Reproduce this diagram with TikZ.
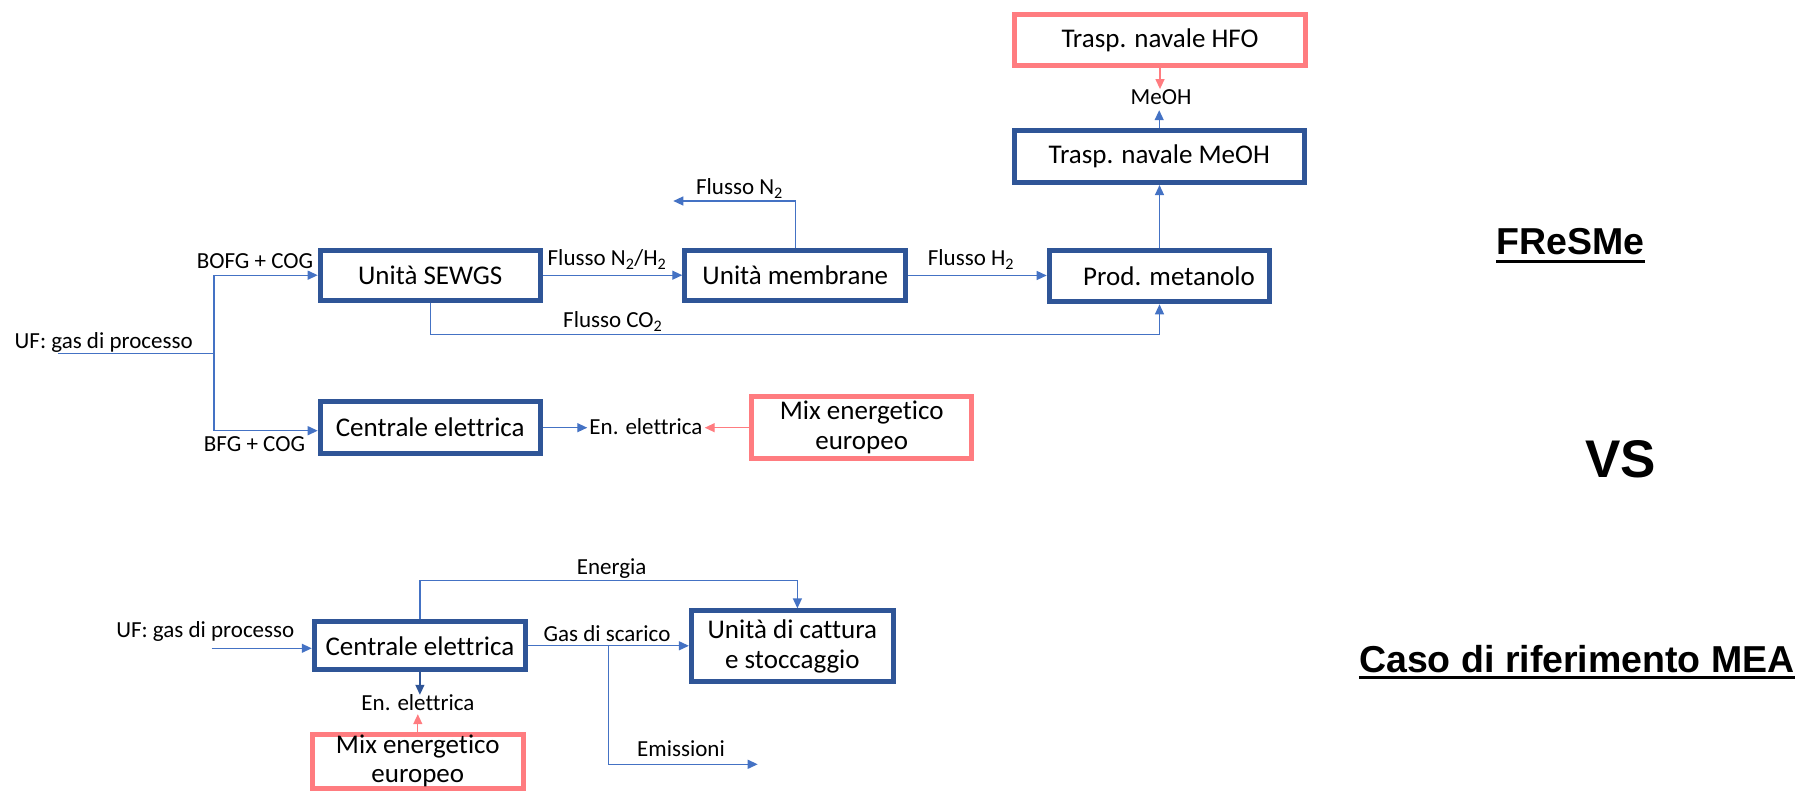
\documentclass[tikz,border=0pt]{standalone}
\usepackage{fontspec}
\setmainfont{Carlito}[Ligatures={NoCommon}]
\newfontfamily\titlefont{Liberation Sans}
\usetikzlibrary{arrows.meta}
\definecolor{dblue}{HTML}{2F5597}
\definecolor{lblue}{HTML}{4472C4}
\definecolor{salm}{HTML}{FF7C80}
\begin{document}
\begin{tikzpicture}[x=1pt,y=-1pt,
  bluebox/.style={draw=dblue,line width=5pt,outer sep=2.5pt,inner sep=0pt,font=\fontsize{27}{30}\selectfont,align=center},
  pinkbox/.style={draw=salm,line width=5pt,outer sep=2.5pt,inner sep=0pt,font=\fontsize{27}{30}\selectfont,align=center},
  lbl/.style={inner sep=2pt,font=\fontsize{23}{27}\selectfont},
  conn/.style={color=lblue,line width=1.3pt},
  arr/.style={color=lblue,line width=1.3pt,-{Triangle[length=10pt,width=9pt]}},
  ttl/.style={anchor=base,inner sep=0pt}]
\useasboundingbox (0,0) rectangle (1797,791);

% FReSMe boxes
\node[bluebox,minimum width=220pt,minimum height=50pt] (sewgs) at (430.2,275.2) {Unità SEWGS};
\node[bluebox,minimum width=221pt,minimum height=50.6pt] (membr) at (795.3,275.5) {Unità membrane};
\node[bluebox,minimum width=220.6pt,minimum height=51.6pt] (prod) at (1159.5,276) {\hspace*{19pt}Prod. metanolo};
\node[bluebox,minimum width=290pt,minimum height=51.7pt] (meohbox) at (1159.2,156.7) {Trasp. navale MeOH};
\node[pinkbox,minimum width=290.4pt,minimum height=51pt] (hfo) at (1160,40.3) {Trasp. navale HFO};
\node[bluebox,minimum width=220pt,minimum height=51.7pt] (cent1) at (430.2,427.7) {Centrale elettrica};
\node[pinkbox,minimum width=219.7pt,minimum height=61.7pt] (mix1) at (861.7,427.7) {Mix energetico\\europeo};

% MEA boxes
\node[bluebox,minimum width=211.3pt,minimum height=48pt] (cent2) at (419.9,645.8) {Centrale elettrica};
\node[bluebox,minimum width=202pt,minimum height=70.7pt] (capt) at (792.4,646.2) {Unità di cattura\\e stoccaggio};
\node[pinkbox,minimum width=210.5pt,minimum height=54pt,font=\fontsize{27}{29}\selectfont] (mix2) at (417.8,761.2) {Mix energetico\\europeo};

% labels
\node[lbl,anchor=base] (uf1) at (103.7,349) {UF: gas di processo};
\node[lbl,anchor=base] (bofg) at (255,269) {BOFG + COG};
\node[lbl,anchor=base] (bfg) at (254.5,451) {BFG + COG};
\node[lbl,anchor=base] (fn2h2) at (607,266) {Flusso N\textsubscript{2}/H\textsubscript{2}};
\node[lbl,anchor=base] (fn2) at (739.5,195) {Flusso N\textsubscript{2}};
\node[lbl,anchor=base] (fh2) at (971,266) {Flusso H\textsubscript{2}};
\node[lbl,anchor=base] (fco2) at (612.8,328) {Flusso CO\textsubscript{2}};
\node[lbl,anchor=base,inner sep=0pt,text height=15pt,text depth=5.7pt] (meoht) at (1161,104.3) {MeOH};
\node[lbl,anchor=base,inner xsep=2pt] (enel1) at (646,435) {En. elettrica};
\node[lbl,anchor=base] (uf2) at (205.3,637) {UF: gas di processo};
\node[lbl,anchor=base] (energia) at (611.7,574) {Energia};
\node[lbl,anchor=base] (gas) at (607,641.7) {Gas di scarico};
\node[lbl,anchor=base,inner xsep=2pt,inner ysep=0pt,text height=15pt,text depth=4pt] (enel2) at (418,710) {En. elettrica};
\node[lbl,anchor=base] (emis) at (681,756.7) {Emissioni};

% connectors FReSMe
\coordinate (ufs) at (58.3,353.3);
\coordinate (ufj) at (214,353.3);
\draw[conn] (ufs) -- (ufj);
\draw[arr] (ufj) |- (sewgs.west);
\coordinate (c1in) at ([yshift=-3pt]cent1.west);
\draw[arr] (ufj) |- (c1in);
\draw[arr] (sewgs.east) -- (sewgs.east -| membr.west);
\draw[arr] (membr.east) -- (membr.east -| prod.west);
\coordinate (n2end) at (673.3,201);
\draw[arr] (membr.north) |- (n2end);
\coordinate (co2y) at (0,334.3);
\draw[arr] (sewgs.south) |- (co2y -| prod.south) -- (prod.south);
\draw[arr] (prod.north) -- (prod.north |- meohbox.south);
\draw[arr] (meohbox.north) -- (meohbox.north |- meoht.south);
\draw[arr,color=salm] (hfo.south) -- (hfo.south |- meoht.north);
\draw[arr] (cent1.east) -- (cent1.east -| enel1.west);
\draw[arr,color=salm] (mix1.west) -- (mix1.west -| enel1.east);

% connectors MEA
\coordinate (uf2s) at (211.7,648.3);
\draw[arr] (uf2s) -- (uf2s -| cent2.west);
\coordinate (ey) at (0,580.7);
\coordinate (capttop) at ([xshift=5pt]capt.north);
\draw[arr] (cent2.north) |- (ey -| capttop) -- (capttop);
\draw[arr] (cent2.east) -- (cent2.east -| capt.west);
\coordinate (ejx) at (608.7,0);
\coordinate (ej) at (cent2.east -| ejx);
\coordinate (emend) at (757.7,764.3);
\draw[arr] (ej) |- (emend);
\draw[arr,color=dblue] (cent2.south) -- (cent2.south |- enel2.north);
\draw[arr,color=salm] (mix2.north) -- (mix2.north |- enel2.south);

% titles
\node[ttl,font=\titlefont\bfseries\fontsize{37.5}{40}\selectfont] (fresme) at (1570.4,255) {FReSMe};
\draw[line width=3.3pt] ([yshift=-6.5pt]fresme.base west) -- ([yshift=-6.5pt]fresme.base east);
\node[ttl,font=\titlefont\bfseries\fontsize{53}{56}\selectfont] (vs) at (1620.8,478) {VS};
\node[ttl,font=\titlefont\bfseries\fontsize{37.5}{40}\selectfont] (caso) at (1576.9,672) {Caso di riferimento MEA};
\draw[line width=3.3pt] ([yshift=-5.5pt]caso.base west) -- ([yshift=-5.5pt]caso.base east);
\end{tikzpicture}
\end{document}
